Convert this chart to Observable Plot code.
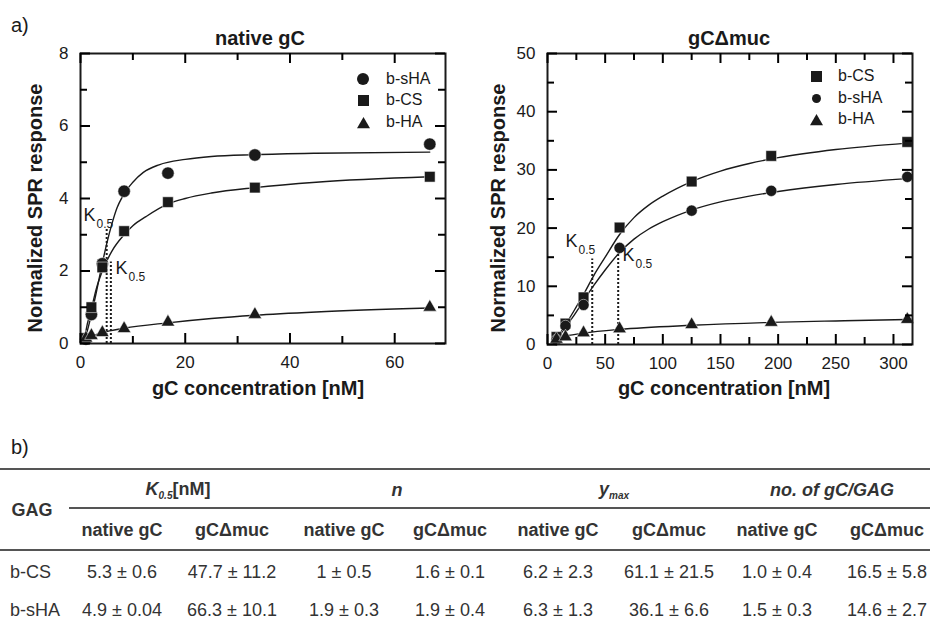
<!DOCTYPE html>
<html><head><meta charset="utf-8">
<script src="https://cdn.jsdelivr.net/npm/d3@7"></script>
<script src="https://cdn.jsdelivr.net/npm/@observablehq/plot@0.6"></script>
<style>
body{margin:0;background:#fff;}
#root{position:relative;width:930px;height:622px;overflow:hidden;color:#1a1a1a;font-family:"Liberation Sans",Arial,Helvetica,sans-serif;}
.abs{position:absolute;white-space:nowrap;line-height:1;}
.panel{position:absolute;top:0;width:465px;height:400px;}
.panel svg{position:absolute;left:0;top:0;}
.title{font-weight:bold;font-size:20px;transform:translate(-50%,-50%);}
.xlab{font-weight:bold;font-size:20px;transform:translate(-50%,-50%);}
.ylab{font-weight:bold;font-size:20px;transform:translate(-50%,-50%) rotate(-90deg);}
.leg{font-size:16px;transform:translateY(-50%);}
.tcell{font-size:18px;color:#333;transform:translate(-50%,-50%);}
.thead{font-size:18px;font-weight:bold;color:#333;transform:translate(-50%,-50%);}
.tline{position:absolute;height:2px;background:#555;}
sub{font-size:11px;vertical-align:-4px;}
</style></head><body><div id="root"></div>
<script>
// ---------------- data: panel "native gC" ----------------
const nativeConc = [1.04, 2.08, 4.17, 8.33, 16.7, 33.3, 66.7];
const nativeSHA = [0.12, 0.8, 2.2, 4.2, 4.7, 5.2, 5.5];
const nativeCS  = [0.15, 1.0, 2.1, 3.1, 3.9, 4.3, 4.6];
const nativeHA  = [0.15, 0.22, 0.3, 0.41, 0.59, 0.8, 1.0];
// fitted curves
const nativeFitSHAx = [0.6, 1, 2, 3, 4, 5, 6, 7, 8, 10, 12, 15, 20, 25, 33.3, 45, 66.7];
const nativeFitSHAy = [0.05, 0.2, 0.75, 1.4, 2.1, 2.75, 3.3, 3.75, 4.05, 4.45, 4.72, 4.93, 5.08, 5.16, 5.21, 5.25, 5.28];
const nativeFitCSx = [0.8, 1.04, 2.08, 3, 4.17, 6, 8.33, 10, 12.5, 16.7, 20, 25, 33.3, 45, 66.7];
const nativeFitCSy = [0.12, 0.35, 0.95, 1.5, 2.0, 2.55, 3.0, 3.25, 3.5, 3.85, 4.0, 4.15, 4.3, 4.45, 4.6];
const nativeFitHAx = [1.04, 2.08, 4.17, 8.33, 16.7, 25, 33.3, 45, 66.7];
const nativeFitHAy = [0.15, 0.2, 0.3, 0.42, 0.57, 0.69, 0.78, 0.87, 0.98];
const nativeKx = [5.0, 5.8];
const nativeKtop = [3.2, 2.25];
const nativeKlabelX = [0.57, 6.7];
const nativeKlabelY = [3.39, 1.93];

// ---------------- data: panel "gCΔmuc" ----------------
const mucConc = [7.8, 15.6, 31.25, 62.5, 125, 194, 312];
const mucCS  = [1.3, 3.6, 8.1, 20.1, 28.0, 32.4, 34.8];
const mucSHA = [0.8, 3.2, 6.8, 16.6, 23.0, 26.4, 28.8];
const mucHA  = [0.9, 1.3, 2.0, 2.7, 3.4, 3.8, 4.3];
const mucFitCSx = [4, 7.8, 15.6, 23, 31.25, 40, 50, 62.5, 75, 87.5, 100, 125, 150, 175, 200, 250, 312];
const mucFitCSy = [0.4, 1.1, 3.4, 5.8, 8.6, 11.8, 15.0, 18.9, 21.8, 23.9, 25.5, 28.0, 29.8, 31.1, 32.1, 33.5, 34.6];
const mucFitSHAx = [4, 7.8, 15.6, 23, 31.25, 40, 50, 62.5, 75, 87.5, 100, 125, 150, 175, 200, 250, 312];
const mucFitSHAy = [0.3, 0.9, 3.0, 5.0, 7.5, 10.1, 12.8, 15.8, 18.1, 19.8, 21.1, 23.1, 24.5, 25.5, 26.3, 27.5, 28.5];
const mucFitHAx = [4, 7.8, 15.6, 31.25, 62.5, 125, 194, 250, 312];
const mucFitHAy = [0.9, 1.1, 1.45, 1.95, 2.6, 3.3, 3.8, 4.05, 4.3];
const mucKx = [38.8, 61.3];
const mucKtop = [14.7, 16.4];
const mucKlabelX = [15.6, 65];
const mucKlabelY = [16.7, 14.4];

// ---------------- tick labels ----------------
const nativeXTicks = [0, 20, 40, 60];
const nativeXMinor = [10, 30, 50];
const nativeYTicks = [0, 2, 4, 6, 8];
const nativeYMinor = [1, 3, 5, 7];
const mucXTicks = [0, 50, 100, 150, 200, 250, 300];
const mucXMinor = [25, 75, 125, 175, 225, 275];
const mucYTicks = [0, 10, 20, 30, 40, 50];
const mucYMinor = [5, 15, 25, 35, 45];

// ---------------- table ----------------
const tableGAG = ["b-CS", "b-sHA"];
const tableGroups = ["K05", "n", "ymax", "no. of gC/GAG"];
const tableSubHeads = ["native gC", "gC\u0394muc", "native gC", "gC\u0394muc", "native gC", "gC\u0394muc", "native gC", "gC\u0394muc"];
const rowCS  = ["5.3 \u00b1 0.6", "47.7 \u00b1 11.2", "1 \u00b1 0.5", "1.6 \u00b1 0.1", "6.2 \u00b1 2.3", "61.1 \u00b1 21.5", "1.0 \u00b1 0.4", "16.5 \u00b1 5.8"];
const rowSHA = ["4.9 \u00b1 0.04", "66.3 \u00b1 10.1", "1.9 \u00b1 0.3", "1.9 \u00b1 0.4", "6.3 \u00b1 1.3", "36.1 \u00b1 6.6", "1.5 \u00b1 0.3", "14.6 \u00b1 2.7"];

const FONT = '"Liberation Sans", Arial, Helvetica, sans-serif';
const INK = "#1a1a1a";
const W = 465, H = 400, MT = 53;

function zipXY(xs, ys) { return xs.map((x, i) => ({x, y: ys[i]})); }

function panel(cfg) {
  const pts = (ys) => zipXY(cfg.conc, ys);
  const kRules = cfg.kx.map((x, i) => ({x, top: cfg.ktop[i]}));
  const kLabels = cfg.klx.map((x, i) => ({x, y: cfg.kly[i]}));
  return Plot.plot({
    width: W, height: H,
    marginLeft: cfg.ml, marginRight: cfg.mr, marginTop: MT, marginBottom: cfg.mb,
    x: {domain: cfg.xDomain},
    y: {domain: cfg.yDomain},
    style: {fontFamily: FONT, fontSize: "17px", color: INK, background: "transparent", overflow: "visible"},
    marks: [
      Plot.axisX({anchor: "bottom", ticks: cfg.xTicks, tickSize: 0, tickPadding: 12, label: null, fontSize: 17}),
      Plot.axisY({anchor: "left", ticks: cfg.yTicks, tickSize: 0, tickPadding: 12, label: null, fontSize: 17}),
      Plot.ruleX(kRules, {x: "x", y1: 0, y2: "top", stroke: INK, strokeWidth: 2, strokeDasharray: "2,2"}),
      ...cfg.fits.map(([xs, ys]) => Plot.line(zipXY(xs, ys), {x: "x", y: "y", stroke: INK, strokeWidth: 1.4, curve: "monotone-x"})),
      ...cfg.series.map(s => Plot.dot(pts(s.ys), {x: "x", y: "y", symbol: s.symbol, r: s.r, fill: INK, stroke: "white", strokeWidth: 0.5})),
      Plot.text(kLabels, {x: "x", y: "y", text: () => "K", textAnchor: "start", lineAnchor: "bottom", fontSize: 18, fill: INK}),
      Plot.text(kLabels, {x: "x", y: "y", text: () => "0.5", textAnchor: "start", lineAnchor: "bottom", fontSize: 12, dx: 13, dy: 7, fill: INK}),
      Plot.frame({stroke: INK, strokeWidth: 2})
    ]
  });
}

// separate overlay plot with the inward tick marks (same scales and margins)
function tickLayer(cfg) {
  const fw = W - cfg.ml - cfg.mr, fh = H - MT - cfg.mb;
  const marks = [];
  for (const [ticks, len] of [[cfg.xTicks, 10], [cfg.xMinor, 7]]) {
    marks.push(Plot.tickX(ticks, {x: d => d, insetTop: fh - len, stroke: "black", strokeWidth: 2}));
    marks.push(Plot.tickX(ticks, {x: d => d, insetBottom: fh - len, stroke: "black", strokeWidth: 2}));
  }
  for (const [ticks, len] of [[cfg.yTicks, 10], [cfg.yMinor, 7]]) {
    marks.push(Plot.tickY(ticks, {y: d => d, insetRight: fw - len, stroke: "black", strokeWidth: 2}));
    marks.push(Plot.tickY(ticks, {y: d => d, insetLeft: fw - len, stroke: "black", strokeWidth: 2}));
  }
  return Plot.plot({
    width: W, height: H,
    marginLeft: cfg.ml, marginRight: cfg.mr, marginTop: MT, marginBottom: cfg.mb,
    x: {domain: cfg.xDomain, axis: null},
    y: {domain: cfg.yDomain, axis: null},
    style: {background: "none"},
    marks
  });
}

const root = document.getElementById("root");
function add(html, cls, left, top) {
  const d = document.createElement("div");
  d.className = "abs " + cls;
  d.style.left = left + "px"; d.style.top = top + "px";
  d.innerHTML = html;
  root.appendChild(d);
  return d;
}

const cfg1 = {
  conc: nativeConc, xDomain: [0, 69.7], yDomain: [0, 8], ml: 80, mr: 20, mb: 57,
  xTicks: nativeXTicks, xMinor: nativeXMinor, yTicks: nativeYTicks, yMinor: nativeYMinor,
  kx: nativeKx, ktop: nativeKtop, klx: nativeKlabelX, kly: nativeKlabelY,
  fits: [[nativeFitSHAx, nativeFitSHAy], [nativeFitCSx, nativeFitCSy], [nativeFitHAx, nativeFitHAy]],
  series: [{ys: nativeSHA, symbol: "circle", r: 6.2}, {ys: nativeCS, symbol: "square", r: 6}, {ys: nativeHA, symbol: "triangle", r: 5}]
};
const cfg2 = {
  conc: mucConc, xDomain: [0, 316.5], yDomain: [0, 50], ml: 82, mr: 18, mb: 56,
  xTicks: mucXTicks, xMinor: mucXMinor, yTicks: mucYTicks, yMinor: mucYMinor,
  kx: mucKx, ktop: mucKtop, klx: mucKlabelX, kly: mucKlabelY,
  fits: [[mucFitCSx, mucFitCSy], [mucFitSHAx, mucFitSHAy], [mucFitHAx, mucFitHAy]],
  series: [{ys: mucCS, symbol: "square", r: 6}, {ys: mucSHA, symbol: "circle", r: 5.6}, {ys: mucHA, symbol: "triangle", r: 5}]
};
[[cfg1, 0], [cfg2, 465]].forEach(([cfg, left]) => {
  const w = document.createElement("div");
  w.className = "panel"; w.style.left = left + "px";
  w.appendChild(panel(cfg));
  w.appendChild(tickLayer(cfg));
  root.appendChild(w);
});

// panel labels
add("a)", "", 11, 15).style.fontSize = "20px";
add("b)", "", 11, 437).style.fontSize = "20px";
add("native gC", "title", 260, 38);
add("gC\u0394muc", "title", 729, 38);
add("gC concentration [nM]", "xlab", 258, 388);
add("gC concentration [nM]", "xlab", 724, 388);
add("Normalized SPR response", "ylab", 35, 208);
add("Normalized SPR response", "ylab", 498, 208);

// legends
function sym(kind, size) {
  const s = size, h = s / 2;
  let shape = "";
  if (kind === "circle") shape = `<circle cx="${h}" cy="${h}" r="${h}" fill="${INK}"/>`;
  if (kind === "square") shape = `<rect x="0" y="0" width="${s}" height="${s}" fill="${INK}"/>`;
  if (kind === "triangle") shape = `<polygon points="${h},0 ${s},${s * 0.87} 0,${s * 0.87}" fill="${INK}"/>`;
  return `<svg width="${s}" height="${s}" style="display:block">${shape}</svg>`;
}
function legend(items, sx, tx, ys) {
  items.forEach((it, i) => {
    add(sym(it.kind, it.size), "", sx - it.size / 2, ys[i] - it.size / 2 + (it.kind === "triangle" ? 1 : 0));
    add(it.label, "leg", tx, ys[i]);
  });
}
legend([{kind: "circle", size: 12, label: "b-sHA"}, {kind: "square", size: 11, label: "b-CS"}, {kind: "triangle", size: 13, label: "b-HA"}], 363, 386, [79, 100, 122]);
legend([{kind: "square", size: 11, label: "b-CS"}, {kind: "circle", size: 9, label: "b-sHA"}, {kind: "triangle", size: 13, label: "b-HA"}], 816, 838, [76, 98, 119]);

// table
const colX = [122, 232, 344, 450, 558, 669, 777, 887];
const groupX = [178, 397, 614, 832];
function hline(top, left, width) {
  const d = document.createElement("div"); d.className = "tline";
  d.style.top = top + "px"; d.style.left = left + "px"; d.style.width = width + "px";
  root.appendChild(d);
}
hline(468, 0, 930);
hline(507, 69, 861);
hline(549, 0, 930);
add("GAG", "thead", 32, 510);
const groupHtml = [
  "<i>K</i><sub><i style='font-size:10px'>0.5</i></sub>[nM]",
  "<i>n</i>",
  "<i>y</i><sub><i style='font-size:10px'>max</i></sub>",
  "<i>" + tableGroups[3] + "</i>"
];
groupHtml.forEach((h, i) => add(h, "thead", groupX[i], 490));
tableSubHeads.forEach((h, i) => add(h, "thead", colX[i], 530));
[rowCS, rowSHA].forEach((row, r) => {
  const y = [572, 610][r];
  const d = add(tableGAG[r], "tcell", 10, y);
  d.style.transform = "translate(0,-50%)";
  row.forEach((v, i) => add(v, "tcell", colX[i], y));
});
</script>
</body></html>
